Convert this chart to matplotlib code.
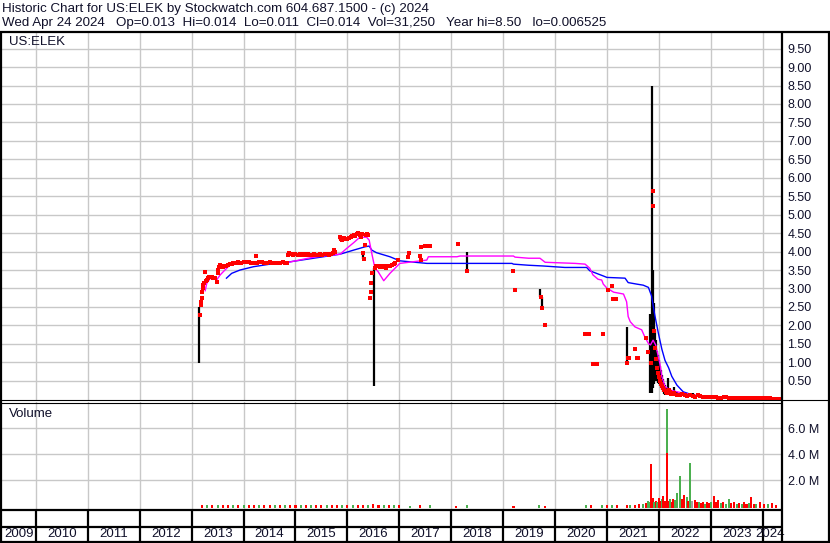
import matplotlib
matplotlib.use("Agg")
import matplotlib.pyplot as plt
from matplotlib.lines import Line2D

plt.rcParams['font.family'] = ['Liberation Sans', 'DejaVu Sans']

# ---------------- data ----------------
title1 = "Historic Chart for US:ELEK by Stockwatch.com 604.687.1500 - (c) 2024"
title2 = "Wed Apr 24 2024   Op=0.013  Hi=0.014  Lo=0.011  Cl=0.014  Vol=31,250   Year hi=8.50   lo=0.006525"
symbol = "US:ELEK"
years = [2009, 2010, 2011, 2012, 2013, 2014, 2015, 2016, 2017, 2018, 2019, 2020, 2021, 2022, 2023, 2024]
price_ticks = [0.5, 1.0, 1.5, 2.0, 2.5, 3.0, 3.5, 4.0, 4.5, 5.0, 5.5, 6.0, 6.5, 7.0, 7.5, 8.0, 8.5, 9.0, 9.5]
vol_ticks = [2.0, 4.0, 6.0]

# closes (red marks)
close_x = [2013.16, 2013.17, 2013.18, 2013.19, 2013.20, 2013.21, 2013.22, 2013.24, 2013.26, 2013.27,
           2013.29, 2013.31, 2013.33, 2013.35, 2013.37, 2013.39, 2013.42, 2013.45, 2013.48, 2013.50,
           2013.51, 2013.53, 2013.55, 2013.57, 2013.58, 2013.60, 2013.61, 2013.64, 2013.67, 2013.70,
           2013.74, 2013.77, 2013.80, 2013.84, 2013.87, 2013.90, 2013.95, 2014.00, 2014.05, 2014.10,
           2014.15, 2014.20, 2014.23, 2014.25, 2014.30, 2014.35, 2014.40, 2014.45, 2014.50, 2014.55,
           2014.60, 2014.65, 2014.70, 2014.75, 2014.80, 2014.83, 2014.85, 2014.88, 2014.92, 2014.96,
           2015.00, 2015.04, 2015.08, 2015.12, 2015.16, 2015.20, 2015.24, 2015.28, 2015.32, 2015.36,
           2015.40, 2015.44, 2015.48, 2015.52, 2015.56, 2015.60, 2015.64, 2015.68, 2015.72, 2015.75,
           2015.77, 2015.86, 2015.88, 2015.90, 2015.93, 2015.96, 2016.00, 2016.03, 2016.06, 2016.09,
           2016.12, 2016.15, 2016.18, 2016.21, 2016.24, 2016.27, 2016.29, 2016.31, 2016.32, 2016.34,
           2016.36, 2016.38, 2016.40, 2016.44, 2016.45, 2016.46, 2016.47, 2016.53, 2016.56, 2016.59,
           2016.62, 2016.65, 2016.68, 2016.71, 2016.74, 2016.77, 2016.80, 2016.83, 2016.86, 2016.89,
           2016.92, 2016.98, 2017.16, 2017.18, 2017.40, 2017.41, 2017.42, 2017.50, 2017.55, 2017.59,
           2018.14, 2018.30, 2019.20, 2019.23, 2019.73, 2019.75, 2019.81, 2020.58, 2020.63, 2020.66,
           2020.73, 2020.80, 2020.92, 2021.02, 2021.09, 2021.12, 2021.17, 2021.38, 2021.41, 2021.43,
           2021.54, 2021.58, 2021.60, 2021.75, 2021.80, 2021.85, 2021.89, 2021.89, 2021.91, 2021.93,
           2021.95, 2021.97, 2021.99, 2022.01, 2022.03, 2022.05, 2022.07, 2022.09, 2022.11, 2022.13,
           2022.15, 2022.17, 2022.19, 2022.21, 2022.23, 2022.25, 2022.27, 2022.30, 2022.35, 2022.40,
           2022.45, 2022.50, 2022.55, 2022.60, 2022.65, 2022.70, 2022.75, 2022.80, 2022.85, 2022.90,
           2022.95, 2023.00, 2023.05, 2023.10, 2023.15, 2023.20, 2023.25, 2023.30, 2023.35, 2023.40,
           2023.45, 2023.50, 2023.55, 2023.60, 2023.65, 2023.70, 2023.75, 2023.80, 2023.85, 2023.90,
           2023.95, 2024.00, 2024.05, 2024.10, 2024.15, 2024.20, 2024.25, 2024.31]
close_y = [2.28, 2.55, 2.64, 2.75, 2.91, 3.00, 3.09, 3.15, 3.46, 3.20,
           3.23, 3.28, 3.30, 3.32, 3.32, 3.30, 3.28, 3.28, 3.18, 3.42,
           3.50, 3.58, 3.64, 3.62, 3.59, 3.57, 3.59, 3.60, 3.61, 3.64,
           3.66, 3.67, 3.68, 3.70, 3.70, 3.71, 3.70, 3.71, 3.72, 3.71,
           3.70, 3.70, 3.89, 3.70, 3.71, 3.72, 3.70, 3.69, 3.71, 3.70,
           3.70, 3.69, 3.70, 3.71, 3.70, 3.69, 3.92, 3.95, 3.93, 3.91,
           3.94, 3.92, 3.93, 3.91, 3.93, 3.92, 3.93, 3.92, 3.92, 3.93,
           3.91, 3.92, 3.93, 3.92, 3.93, 3.94, 3.92, 3.93, 3.95, 4.04,
           4.00, 4.40, 4.35, 4.32, 4.36, 4.33, 4.35, 4.38, 4.40, 4.42,
           4.45, 4.43, 4.47, 4.50, 4.45, 4.40, 4.47, 3.95, 3.79, 4.18,
           4.45, 4.48, 4.45, 2.75, 2.91, 3.14, 3.41, 3.55, 3.60, 3.62,
           3.58, 3.60, 3.57, 3.62, 3.56, 3.60, 3.62, 3.60, 3.64, 3.66,
           3.68, 3.77, 3.86, 3.97, 3.88, 3.77, 4.13, 4.15, 4.15, 4.15,
           4.20, 3.47, 3.48, 2.96, 2.78, 2.46, 2.01, 1.77, 1.77, 1.77,
           0.95, 0.95, 1.77, 2.96, 3.07, 2.72, 2.72, 0.99, 1.12, 1.12,
           1.35, 1.11, 1.11, 1.67, 1.29, 0.97, 5.65, 5.24, 1.86, 1.40,
           1.10, 0.85, 0.70, 0.60, 0.50, 0.42, 0.35, 0.30, 0.25, 0.20,
           0.18, 0.22, 0.25, 0.20, 0.15, 0.18, 0.14, 0.16, 0.12, 0.10,
           0.14, 0.10, 0.08, 0.12, 0.09, 0.07, 0.10, 0.08, 0.06, 0.07,
           0.05, 0.06, 0.05, 0.05, 0.04, 0.04, 0.05, 0.05, 0.04, 0.03,
           0.04, 0.04, 0.03, 0.03, 0.03, 0.03, 0.02, 0.02, 0.03, 0.03,
           0.02, 0.02, 0.02, 0.02, 0.02, 0.015, 0.014, 0.014]

# high-low bars (black)
bar_x = [2013.146, 2015.86, 2016.31, 2016.51, 2018.30, 2019.72, 2019.75, 2021.38, 2021.83, 2021.87,
         2021.89, 2021.90, 2021.92, 2021.94, 2021.96, 2021.98, 2022.00, 2022.02, 2022.04, 2022.06,
         2022.08, 2022.10, 2022.12, 2022.14, 2022.17, 2022.20, 2022.24, 2022.30, 2022.35, 2022.66,
         2023.15, 2024.30]
bar_lo = [0.97, 4.31, 3.79, 0.37, 3.47, 2.78, 2.46, 0.99, 0.16, 0.17,
          0.30, 0.40, 0.50, 0.55, 0.50, 0.45, 0.40, 0.35, 0.30, 0.25,
          0.20, 0.15, 0.12, 0.10, 0.12, 0.10, 0.10, 0.08, 0.08, 0.06,
          0.04, 0.011]
bar_hi = [2.51, 4.45, 3.95, 3.55, 3.98, 2.98, 2.78, 1.96, 2.30, 8.50,
          3.50, 2.60, 1.90, 1.60, 1.30, 1.20, 1.05, 0.90, 0.80, 0.65,
          0.55, 0.45, 0.38, 0.30, 0.57, 0.30, 0.25, 0.34, 0.20, 0.16,
          0.09, 0.04]

# short moving average (magenta)
ma_short_x = [2013.26, 2013.29, 2013.36, 2013.42, 2013.48, 2013.55, 2013.64, 2013.74, 2013.87, 2014.83,
              2015.35, 2015.86, 2015.99, 2016.12, 2016.24, 2016.37, 2016.42, 2016.47, 2016.53, 2016.59,
              2016.70, 2016.82, 2017.01, 2017.53, 2017.56, 2018.11, 2018.17, 2019.20, 2019.23, 2019.49,
              2019.71, 2019.81, 2020.39, 2020.58, 2020.67, 2020.73, 2020.83, 2020.90, 2020.93, 2021.00,
              2021.13, 2021.32, 2021.38, 2021.41, 2021.45, 2021.54, 2021.67, 2021.73, 2021.80, 2021.84,
              2021.89, 2021.94, 2022.02, 2022.06, 2022.12, 2022.22, 2022.35, 2022.66, 2023.00, 2023.31,
              2023.70, 2024.00, 2024.31]
ma_short_y = [2.94, 3.14, 3.28, 3.32, 3.23, 3.37, 3.50, 3.64, 3.68, 3.70,
              3.85, 3.93, 4.09, 4.24, 4.39, 4.39, 4.31, 3.95, 3.55, 3.46,
              3.21, 3.41, 3.68, 3.77, 3.86, 3.86, 3.88, 3.88, 3.85, 3.82,
              3.82, 3.71, 3.68, 3.66, 3.55, 3.37, 3.25, 3.23, 3.12, 3.01,
              2.90, 2.85, 2.64, 2.24, 2.10, 1.96, 1.88, 1.69, 1.51, 1.47,
              1.60, 1.47, 0.97, 0.61, 0.34, 0.25, 0.20, 0.11, 0.07, 0.04,
              0.03, 0.02, 0.02]

# long moving average (blue)
ma_long_x = [2013.67, 2013.77, 2013.93, 2014.19, 2014.51, 2014.83, 2015.35, 2015.86, 2016.12, 2016.34,
             2016.42, 2016.47, 2016.56, 2016.82, 2017.01, 2017.53, 2019.17, 2019.20, 2019.49, 2019.77,
             2020.19, 2020.61, 2020.67, 2020.80, 2020.93, 2021.00, 2021.35, 2021.41, 2021.57, 2021.70,
             2021.80, 2021.86, 2021.92, 2021.99, 2022.06, 2022.12, 2022.19, 2022.25, 2022.35, 2022.47,
             2022.66, 2022.99, 2023.45, 2023.95, 2024.31]
ma_long_y = [3.28, 3.41, 3.50, 3.59, 3.66, 3.71, 3.82, 3.93, 4.04, 4.13,
             4.15, 4.04, 3.97, 3.86, 3.75, 3.68, 3.68, 3.66, 3.63, 3.61,
             3.57, 3.57, 3.48, 3.41, 3.34, 3.30, 3.28, 3.16, 3.12, 3.09,
             3.03, 2.80, 2.30, 1.80, 1.35, 1.05, 0.85, 0.62, 0.38, 0.20,
             0.11, 0.06, 0.03, 0.015, 0.01]

# volume (millions)
vol_x = [2013.2, 2013.3, 2013.4, 2013.5, 2013.6, 2013.7, 2013.8, 2013.9, 2014.0, 2014.1,
         2014.2, 2014.3, 2014.4, 2014.5, 2014.6, 2014.7, 2014.8, 2014.9, 2015.0, 2015.1,
         2015.2, 2015.3, 2015.4, 2015.5, 2015.6, 2015.7, 2015.8, 2015.9, 2016.0, 2016.1,
         2016.2, 2016.3, 2016.4, 2016.5, 2016.6, 2016.7, 2016.8, 2016.9, 2017.0, 2017.2,
         2017.4, 2017.6, 2018.1, 2018.3, 2019.2, 2019.7, 2019.8, 2020.6, 2020.7, 2020.9,
         2021.0, 2021.1, 2021.2, 2021.38, 2021.45, 2021.55, 2021.62, 2021.70, 2021.76, 2021.80,
         2021.83, 2021.85, 2021.88, 2021.91, 2021.94, 2021.97, 2022.00, 2022.03, 2022.06, 2022.09,
         2022.12, 2022.15, 2022.19, 2022.22, 2022.25, 2022.28, 2022.32, 2022.35, 2022.40, 2022.44,
         2022.49, 2022.54, 2022.57, 2022.60, 2022.64, 2022.69, 2022.73, 2022.77, 2022.81, 2022.85,
         2022.89, 2022.93, 2022.97, 2023.01, 2023.06, 2023.10, 2023.14, 2023.19, 2023.24, 2023.29,
         2023.35, 2023.40, 2023.45, 2023.50, 2023.55, 2023.60, 2023.64, 2023.69, 2023.74, 2023.78,
         2023.83, 2023.88, 2023.95, 2024.02, 2024.10, 2024.18, 2024.26]
vol_y = [0.12, 0.10, 0.14, 0.09, 0.12, 0.10, 0.08, 0.13, 0.10, 0.09,
         0.12, 0.08, 0.11, 0.10, 0.09, 0.12, 0.08, 0.10, 0.11, 0.09,
         0.12, 0.10, 0.08, 0.11, 0.09, 0.10, 0.12, 0.14, 0.10, 0.12,
         0.09, 0.11, 0.13, 0.15, 0.10, 0.08, 0.09, 0.07, 0.08, 0.06,
         0.08, 0.07, 0.06, 0.08, 0.06, 0.07, 0.06, 0.08, 0.07, 0.10,
         0.12, 0.09, 0.11, 0.14, 0.10, 0.12, 0.18, 0.20, 0.25, 0.45,
         0.37, 3.26, 0.63, 0.30, 0.45, 0.35, 0.63, 0.40, 0.55, 0.80,
         0.45, 7.48, 0.40, 0.58, 0.35, 0.60, 0.50, 1.01, 2.34, 0.55,
         0.88, 0.75, 0.45, 3.36, 0.40, 0.50, 0.30, 0.35, 0.25, 0.30,
         0.20, 0.30, 0.25, 0.30, 0.80, 0.35, 0.50, 0.25, 0.30, 0.20,
         0.58, 0.25, 0.30, 0.20, 0.25, 0.15, 0.37, 0.20, 0.25, 0.75,
         0.20, 0.15, 0.37, 0.20, 0.15, 0.25, 0.12]
vol_c = ['r', 'g', 'r', 'g', 'r', 'r', 'g', 'r', 'g', 'r',
         'r', 'g', 'r', 'r', 'g', 'r', 'g', 'r', 'r', 'g',
         'r', 'g', 'r', 'r', 'g', 'r', 'r', 'g', 'r', 'g',
         'r', 'r', 'g', 'r', 'r', 'g', 'r', 'g', 'r', 'g',
         'r', 'g', 'r', 'g', 'r', 'g', 'r', 'g', 'r', 'g',
         'r', 'g', 'r', 'r', 'g', 'r', 'r', 'g', 'r', 'g',
         'g', 'r', 'r', 'g', 'r', 'g', 'r', 'r', 'g', 'r',
         'r', 'g', 'r', 'g', 'r', 'r', 'g', 'g', 'g', 'r',
         'r', 'g', 'r', 'g', 'x', 'r', 'r', 'g', 'r', 'r',
         'g', 'r', 'r', 'g', 'r', 'r', 'r', 'g', 'r', 'g',
         'g', 'r', 'r', 'g', 'r', 'g', 'r', 'r', 'g', 'r',
         'r', 'g', 'r', 'r', 'g', 'r', 'r']
# the tallest column also holds a red (down-day) bar in front
vol_inner_x = [2022.15]
vol_inner_y = [4.13]

# ---------------- layout ----------------
W, H = 830, 543
fig = plt.figure(figsize=(W / 100, H / 100), dpi=100)

def rect(x0, y0, x1, y1):
    return [x0 / W, 1 - y1 / H, (x1 - x0) / W, (y1 - y0) / H]

XMIN, XMAX = 2009.345, 2024.374
GRID = '#c8c8c8'
TXT = '#10102a'
colmap = {'r': '#ff0000', 'g': '#4cb050', 'x': '#a0a0a0'}

# price panel
ax = fig.add_axes(rect(2, 32, 782, 400))
ax.set_xlim(XMIN, XMAX)
ax.set_ylim(-0.022, 9.951)
for t in price_ticks:
    ax.axhline(t, color=GRID, lw=1.0, zorder=0)
for yv in years[1:]:
    ax.axvline(yv, color=GRID, lw=1.0, zorder=0)
ax.vlines(bar_x, bar_lo, bar_hi, colors='black', lw=1.6, zorder=2)
ax.plot(ma_long_x, ma_long_y, color='#0000ff', lw=1.0, zorder=3)
ax.plot(ma_short_x, ma_short_y, color='#ff00ff', lw=1.0, zorder=4)
ax.plot(close_x, close_y, ls='none', marker='s', ms=2.5, mew=0, color='#ff0000', zorder=5)
ax.set_yticks(price_ticks)
ax.set_yticklabels(["%.2f" % t for t in price_ticks])
ax.yaxis.tick_right()
ax.tick_params(axis='y', length=0, pad=4, labelsize=9, labelcolor=TXT)
ax.set_xticks([])
for s in ax.spines.values():
    s.set_visible(False)
ax.text(0.009, 0.988, symbol, transform=ax.transAxes, fontsize=9.5, color=TXT,
        ha='left', va='top')

# volume panel
av = fig.add_axes(rect(2, 402, 782, 509))
av.set_xlim(XMIN, XMAX)
av.set_ylim(-0.2, 8.01)
for t in vol_ticks:
    av.axhline(t, color=GRID, lw=1.0, zorder=0)
for yv in years[1:]:
    av.axvline(yv, color=GRID, lw=1.0, zorder=0)
base = -0.12
av.bar(vol_x, [v - base for v in vol_y], width=0.04, bottom=base,
       color=[colmap[c] for c in vol_c], lw=0, zorder=2)
av.bar(vol_inner_x, [v - base for v in vol_inner_y], width=0.04, bottom=base,
       color='#ff0000', lw=0, zorder=3)
av.set_yticks(vol_ticks)
av.set_yticklabels(["%.1f M" % t for t in vol_ticks])
av.yaxis.tick_right()
av.tick_params(axis='y', length=0, pad=4, labelsize=9, labelcolor=TXT)
av.set_xticks([])
for s in av.spines.values():
    s.set_visible(False)
av.text(0.009, 0.94, "Volume", transform=av.transAxes, fontsize=9.5, color=TXT,
        ha='left', va='top')

# year axis rows
ay = fig.add_axes(rect(2, 509, 782, 542))
ay.set_xlim(XMIN, XMAX)
ay.set_ylim(0, 1)
ay.axis('off')
ay.vlines(years[1:], 0, 1, colors='black', lw=1.6)
for i, yv in enumerate(years):
    lo = max(yv, XMIN)
    hi = min(yv + 1, XMAX)
    c = (lo + hi) / 2 if yv != 2024 else hi - 0.23
    ay.text(c, 0.23, str(yv), ha='center', va='center', fontsize=9.5, color=TXT)

# frame lines in pixel coordinates
af = fig.add_axes([0, 0, 1, 1], zorder=10)
af.set_xlim(0, W)
af.set_ylim(H, 0)
af.axis('off')
af.patch.set_alpha(0)
def seg(x0, y0, x1, y1, lw):
    af.add_line(Line2D([x0, x1], [y0, y1], color='black', lw=lw, solid_capstyle='butt'))
seg(0, 32, W, 32, 1.6)
seg(1, 32, 1, H, 1.6)
seg(W - 1, 32, W - 1, H, 1.6)
seg(0, H - 1, W, H - 1, 1.6)
seg(782, 32, 782, H, 1.6)
seg(0, 400, W, 400, 0.8)
seg(0, 402.8, 782, 402.8, 0.8)
seg(0, 509.5, 782, 509.5, 1.6)
seg(0, 527, 782, 527, 1.6)

fig.text(2 / W, 1 - 9 / H, title1, ha='left', va='center', fontsize=9.6, color=TXT)
fig.text(2 / W, 1 - 23 / H, title2, ha='left', va='center', fontsize=9.6, color=TXT)

fig.savefig("out.png", dpi=100)
